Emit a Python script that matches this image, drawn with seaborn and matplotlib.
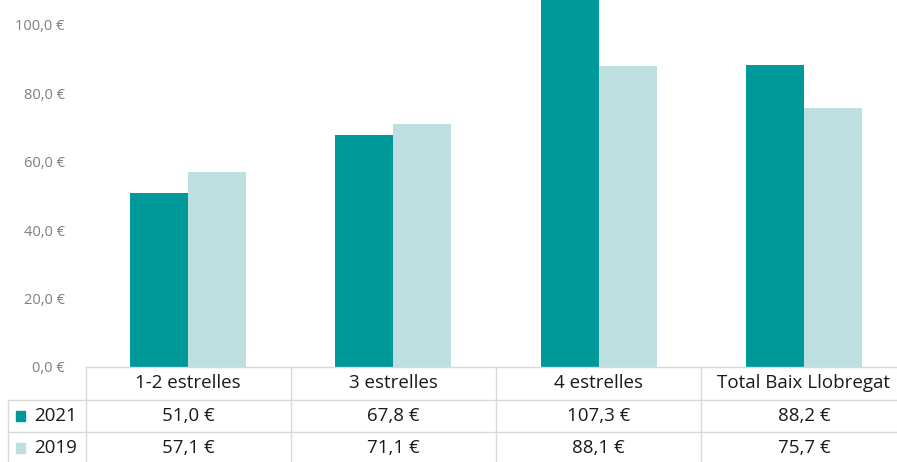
import matplotlib
matplotlib.use("Agg")
import matplotlib.pyplot as plt
import matplotlib.transforms as mtransforms
import pandas as pd
import seaborn as sns

categories = ["1-2 estrelles", "3 estrelles", "4 estrelles", "Total Baix Llobregat"]
years = ["2021", "2019"]
values_2021 = [51.0, 67.8, 107.3, 88.2]
values_2019 = [57.1, 71.1, 88.1, 75.7]
colors = {"2021": "#009999", "2019": "#BDDFE0"}

df = pd.DataFrame({
    "categoria": categories * 2,
    "any": ["2021"] * 4 + ["2019"] * 4,
    "preu": values_2021 + values_2019,
})

sns.set_style("white")
plt.rcParams["font.family"] = ["Open Sans", "DejaVu Sans"]

W, H = 897, 462
fig = plt.figure(figsize=(W / 100, H / 100), dpi=100)
ax = fig.add_axes([85.5 / W, (H - 367) / H, 821 / W, 367 / H])

sns.barplot(data=df, x="categoria", y="preu", hue="any", hue_order=years,
            palette=colors, width=0.565, gap=0, legend=False, ax=ax,
            saturation=1, errorbar=None, linewidth=0)

ax.set_xlim(-0.5, 3.5)
ax.set_ylim(0, 107.3)
ax.set_yticks([0, 20, 40, 60, 80, 100])
ax.set_yticklabels([f"{v:.1f}".replace(".", ",") + " €" for v in [0, 20, 40, 60, 80, 100]])
ax.tick_params(axis="y", labelsize=10.5, labelcolor="#7F7F7F", length=0, pad=15)
ax.set_xticks([])
ax.set_xlabel("")
ax.set_ylabel("")
for s in ["top", "right", "left"]:
    ax.spines[s].set_visible(False)
ax.spines["bottom"].set_color("#D9D9D9")
ax.spines["bottom"].set_linewidth(1)

# data table below the plot
line_kw = dict(color="#D9D9D9", lw=1, transform=fig.transFigure, clip_on=False)

def fy(py):
    return (H - py) / H

def fx(px):
    return px / W

# horizontal lines
fig.add_artist(plt.Line2D([fx(8), fx(W)], [fy(400), fy(400)], **line_kw))
fig.add_artist(plt.Line2D([fx(8), fx(W)], [fy(432), fy(432)], **line_kw))
# vertical lines
fig.add_artist(plt.Line2D([fx(8), fx(8)], [fy(400), fy(H)], **line_kw))
for i in range(len(categories)):
    x0 = ax.transData.transform((i - 0.5, 0))[0]
    fig.add_artist(plt.Line2D([x0 / W, x0 / W], [fy(367), fy(H)], **line_kw))

trans = mtransforms.blended_transform_factory(ax.transData, fig.transFigure)
txt_kw = dict(fontsize=13.5, color="#1A1A1A", ha="center", va="center", transform=trans)
for i, cat in enumerate(categories):
    ax.text(i, fy(383), cat, **txt_kw)
    ax.text(i, fy(416), f"{values_2021[i]:.1f}".replace(".", ",") + " €", **txt_kw)
    ax.text(i, fy(448), f"{values_2019[i]:.1f}".replace(".", ",") + " €", **txt_kw)

for yr, py in zip(years, [416, 448]):
    fig.add_artist(plt.Rectangle((fx(16), fy(py + 5)), 9 / W, 10 / H,
                                 color=colors[yr], transform=fig.transFigure))
    fig.text(fx(34), fy(py), yr, fontsize=13.5, color="#1A1A1A", ha="left", va="center")

fig.savefig("out.png", dpi=100)
